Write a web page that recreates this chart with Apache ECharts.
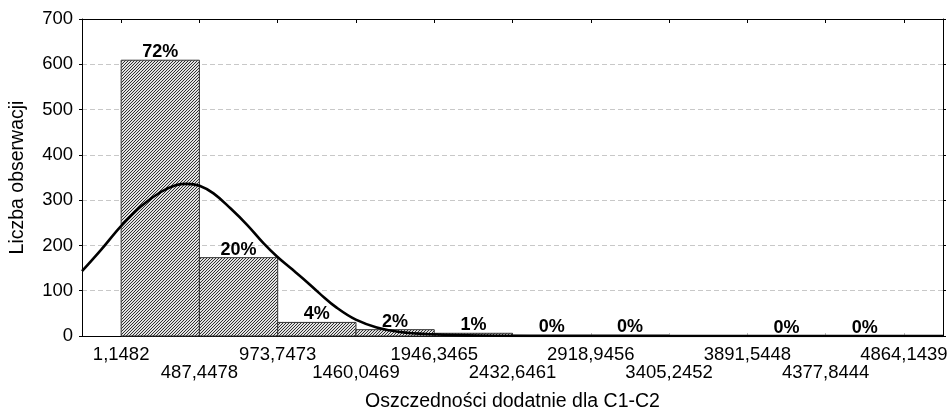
<!DOCTYPE html>
<html>
<head>
<meta charset="utf-8">
<script src="https://cdn.jsdelivr.net/npm/echarts@6/dist/echarts.min.js"></script>
<style>
html,body{margin:0;padding:0;background:#fff;}
#chart{width:949px;height:407px;}
</style>
</head>
<body>
<div id="chart"></div>
<script>
// granice przedzialow (os X)
var edges=[1.1482,487.4478,973.7473,1460.0469,1946.3465,2432.6461,2918.9456,3405.2452,3891.5448,4377.8444,4864.1439];
var edgeLabels=['1,1482','487,4478','973,7473','1460,0469','1946,3465','2432,6461','2918,9456','3405,2452','3891,5448','4377,8444','4864,1439'];
// liczebnosci w przedzialach
var counts=[609,173,30,14,6,2,2,0,1,1];
var percents=['72%','20%','4%','2%','1%','0%','0%','','0%','0%'];
// krzywa
var curveX=[-242,-124,-1,123,247,340,408,488,575,680,785,885,971,1054,1134,1237,1342,1459,1589,1732,1936,2227,2660,5107];
var curveY=[143,190,242,286,318,333,336,332,315,282,245,205,175,150,126,93,62,36,19,9,4,1,0,0];

var font='Liberation Sans, Arial, sans-serif';

window.onload=function(){

    //wzor kreskowania 3x3
    var pc=document.createElement('canvas');
    pc.width=3;pc.height=3;
    var ctx=pc.getContext('2d');
    ctx.fillStyle='#e2e2e2';
    ctx.fillRect(0,0,3,3);
    ctx.fillStyle='#303030';
    ctx.fillRect(0,2,1,1);
    ctx.fillRect(1,1,1,1);
    ctx.fillRect(2,0,1,1);

    // etykiety w dwoch rzedach
    var evenEdges=[],oddEdges=[];
    for(var e=0;e<edges.length;e++){
        if(e%2==0){evenEdges.push(edges[e]);}else{oddEdges.push(edges[e]);}
    }
    function edgeFmt(v){
        var idx=0,best=1e9;
        for(var i=0;i<edges.length;i++){
            if(Math.abs(edges[i]-v)<best){best=Math.abs(edges[i]-v);idx=i;}
        }
        return edgeLabels[idx];
    }

    var barData=[];
    for(var i=0;i<counts.length;i++){
        barData.push([edges[i],edges[i+1],counts[i],i]);
    }
    var lineData=[];
    for(var j=0;j<curveX.length;j++){
        lineData.push([curveX[j],curveY[j]]);
    }

    var myChart=echarts.init(document.getElementById('chart'));

    var labelStyle={color:'#000',fontFamily:font,fontSize:18.5};

    var option={
        animation:false,
        grid:{left:82,right:6,top:19,bottom:71,outerBoundsMode:'none',containLabel:false},
        xAxis:[{
            type:'value',
            position:'bottom',
            min:-242,
            max:5107,
            axisLine:{onZero:false,lineStyle:{color:'#000',width:1}},
            axisTick:{show:true,inside:true,length:3,customValues:edges,lineStyle:{color:'#bbb'}},
            splitLine:{show:false},
            axisLabel:Object.assign({
                customValues:evenEdges,
                hideOverlap:false,
                showMaxLabel:true,
                showMinLabel:true,
                margin:9,
                formatter:edgeFmt
            },labelStyle),
            name:'Oszczędności dodatnie dla C1-C2',
            nameLocation:'middle',
            nameGap:56,
            nameTextStyle:{color:'#000',fontFamily:font,fontSize:19.5}
        },{
            type:'value',
            position:'top',
            min:-242,
            max:5107,
            axisLine:{show:true,onZero:false,lineStyle:{color:'#000',width:1}},
            axisTick:{show:true,inside:true,length:4,customValues:edges,lineStyle:{color:'#000'}},
            axisLabel:{show:false},
            splitLine:{show:false}
        },{
            type:'value',
            position:'bottom',
            min:-242,
            max:5107,
            axisLine:{show:false,onZero:false},
            axisTick:{show:false},
            splitLine:{show:false},
            axisLabel:Object.assign({
                customValues:oddEdges,
                hideOverlap:false,
                showMaxLabel:true,
                showMinLabel:true,
                margin:27,
                formatter:edgeFmt
            },labelStyle)
        }],
        yAxis:[{
            type:'value',
            position:'left',
            min:0,
            max:700,
            interval:100,
            axisLine:{show:true,onZero:false,lineStyle:{color:'#000',width:1}},
            axisTick:{show:true,length:3,lineStyle:{color:'#000'}},
            axisLabel:{color:'#000',fontFamily:font,fontSize:18.5,margin:9},
            splitLine:{show:true,lineStyle:{color:'#c8c8c8',type:[5,3],width:1}},
            name:'Liczba obserwacji',
            nameLocation:'middle',
            nameGap:54,
            nameTextStyle:{color:'#000',fontFamily:font,fontSize:19.5}
        },{
            type:'value',
            position:'right',
            min:0,
            max:700,
            interval:100,
            axisLine:{show:true,onZero:false,lineStyle:{color:'#000',width:1}},
            axisTick:{show:true,length:3,lineStyle:{color:'#000'}},
            axisLabel:{show:false},
            splitLine:{show:false}
        }],
        series:[{
            type:'custom',
            xAxisIndex:0,
            yAxisIndex:0,
            data:barData,
            renderItem:function(params,api){
                var p0=api.coord([api.value(0),api.value(2)]);
                var p1=api.coord([api.value(1),0]);
                var idx=api.value(3);
                var children=[];
                if(api.value(2)>0){
                    children.push({
                        type:'rect',
                        shape:{x:p0[0],y:p0[1],width:p1[0]-p0[0],height:p1[1]-p0[1]},
                        style:{fill:{image:pc,repeat:'repeat'},stroke:'#333',lineWidth:1}
                    });
                }
                if(percents[idx]){
                    children.push({
                        type:'text',
                        style:{
                            text:percents[idx],
                            x:(p0[0]+p1[0])/2,
                            y:p0[1]+1,
                            align:'center',
                            verticalAlign:'bottom',
                            fontFamily:font,
                            fontWeight:'bold',
                            fontSize:18,
                            fill:'#000'
                        }
                    });
                }
                return {type:'group',children:children};
            },
            z:2
        },{
            type:'line',
            xAxisIndex:0,
            yAxisIndex:0,
            data:lineData,
            smooth:0.4,
            showSymbol:false,
            lineStyle:{color:'#000',width:2.6},
            z:3
        }]
    };

    myChart.setOption(option);
}
</script>
</body>
</html>
